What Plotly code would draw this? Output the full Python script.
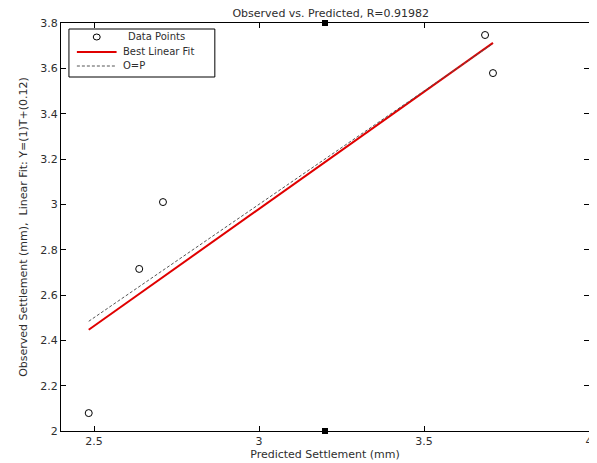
import numpy as np
import plotly.graph_objects as go

# Data
predicted = [2.484, 2.637, 2.709, 3.685, 3.709]
observed = [2.079, 2.715, 3.010, 3.747, 3.579]

x_ticks = [2.5, 3, 3.5, 4]
x_tick_labels = ["2.5", "3", "3.5", "4"]
y_ticks = [2, 2.2, 2.4, 2.6, 2.8, 3, 3.2, 3.4, 3.6, 3.8]
y_tick_labels = ["2", "2.2", "2.4", "2.6", "2.8", "3", "3.2", "3.4", "3.6", "3.8"]
legend_labels = ["Data Points", "Best Linear Fit", "O=P"]

x_arr = np.array(predicted)
y_arr = np.array(observed)
slope, intercept = np.polyfit(x_arr, y_arr, 1)
r_value = 0.91982

line_x = [float(x_arr.min()), float(x_arr.max())]
fit_y = [slope * v + intercept for v in line_x]

font = "DejaVu Sans, Liberation Sans, Arial, sans-serif"
txt = "#2e2e2e"
red = "#e00000"
dash_col = "#555555"

fig = go.Figure()
fig.add_trace(go.Scatter(
    x=predicted, y=observed, mode="markers", name=legend_labels[0], showlegend=False,
    marker=dict(symbol="circle-open", size=7, color="black", line=dict(width=1, color="black")),
))
fig.add_trace(go.Scatter(
    x=line_x, y=fit_y, mode="lines", name=legend_labels[1], showlegend=False,
    line=dict(color=red, width=2),
))
fig.add_trace(go.Scatter(
    x=line_x, y=line_x, mode="lines", name=legend_labels[2], showlegend=False,
    line=dict(color=dash_col, width=1, dash="3px,2px"),
))
# small marks on top/bottom borders seen in the reference
fig.add_trace(go.Scatter(
    x=[3.2, 3.2], y=[3.8, 2.0], mode="markers", showlegend=False, cliponaxis=False,
    marker=dict(symbol="square", size=6, color="black"), hoverinfo="skip",
))

# --- legend box drawn in paper coordinates (plot area 532 x 408 px) ---
PW, PH = 532.0, 408.0
def px(v):
    return v / PW
def py(v):
    return 1 - v / PH

shapes = [
    dict(type="rect", xref="paper", yref="paper", x0=px(8), x1=px(155), y0=py(54), y1=py(6),
         line=dict(color="black", width=1), fillcolor="white", layer="above"),
    dict(type="circle", xref="paper", yref="paper", xsizemode="pixel", ysizemode="pixel",
         xanchor=px(36), yanchor=py(14), x0=-3.5, x1=3.5, y0=-3, y1=3,
         line=dict(color="black", width=1), layer="above"),
    dict(type="line", xref="paper", yref="paper", x0=px(16), x1=px(56), y0=py(29), y1=py(29),
         line=dict(color=red, width=2), layer="above"),
    dict(type="line", xref="paper", yref="paper", x0=px(16), x1=px(56), y0=py(43), y1=py(43),
         line=dict(color=dash_col, width=1, dash="3px,2px"), layer="above"),
]
annotations = [
    dict(xref="paper", yref="paper", x=px(65), y=py(14), text=legend_labels[0], showarrow=False,
         xanchor="left", yanchor="middle", font=dict(size=10, color=txt)),
    dict(xref="paper", yref="paper", x=px(60), y=py(29), text=legend_labels[1], showarrow=False,
         xanchor="left", yanchor="middle", font=dict(size=10, color=txt)),
    dict(xref="paper", yref="paper", x=px(60), y=py(43), text=legend_labels[2], showarrow=False,
         xanchor="left", yanchor="middle", font=dict(size=10, color=txt)),
]

# page body adds an 8px offset; compensate in size and margins
fig.update_layout(
    width=589, height=455,
    margin=dict(l=53, r=4, t=15, b=32),
    paper_bgcolor="white", plot_bgcolor="white",
    font=dict(family=font, size=11, color=txt),
    title=dict(text="Observed vs. Predicted, R=%.5f" % r_value, x=0.548, xanchor="center",
               y=0.989, yanchor="middle", font=dict(size=11, color=txt)),
    showlegend=False,
    shapes=shapes,
    annotations=annotations,
)
fig.update_xaxes(
    range=[2.4, 4], tickvals=x_ticks, ticktext=x_tick_labels,
    showgrid=False, zeroline=False, showline=True, linecolor="black", linewidth=1,
    mirror="ticks", ticks="inside", ticklen=5, tickcolor="black",
    title=dict(text="Predicted Settlement (mm)", standoff=2, font=dict(size=11)),
    tickfont=dict(size=11),
)
fig.update_yaxes(
    range=[2, 3.8], tickvals=y_ticks, ticktext=y_tick_labels,
    showgrid=False, zeroline=False, showline=True, linecolor="black", linewidth=1,
    mirror="ticks", ticks="inside", ticklen=5, tickcolor="black",
    title=dict(text="Observed Settlement (mm),  Linear Fit: Y=(1)T+(0.12)", standoff=10, font=dict(size=11)),
    tickfont=dict(size=11),
)

fig.write_html("out.html")
